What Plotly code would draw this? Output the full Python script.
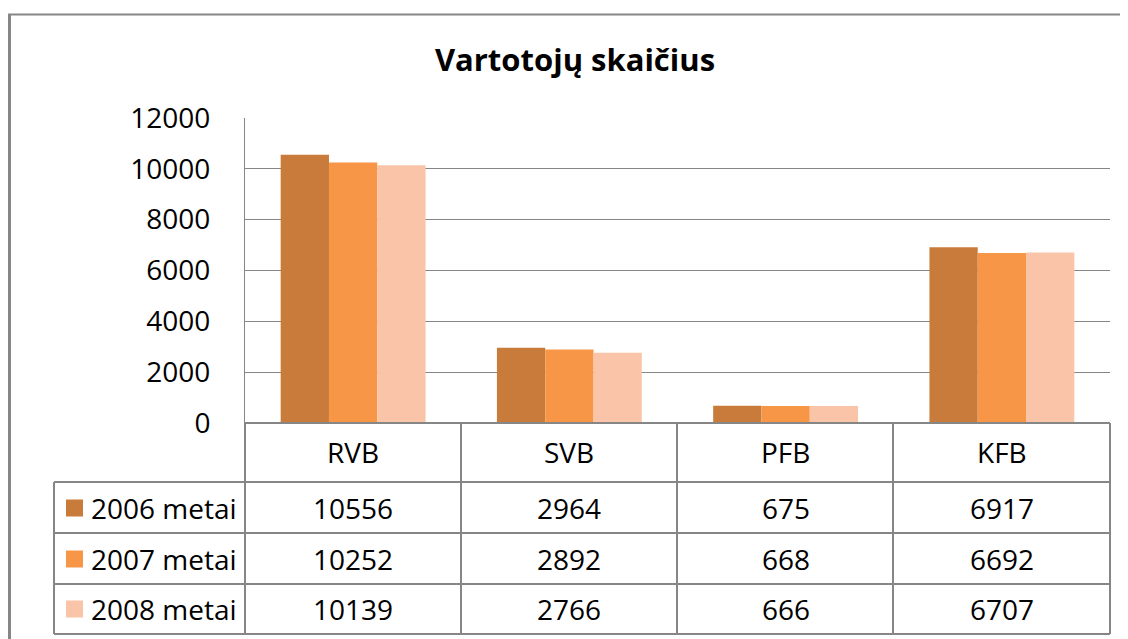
import plotly.graph_objects as go

categories = ["RVB", "SVB", "PFB", "KFB"]
series_names = ["2006 metai", "2007 metai", "2008 metai"]
values_2006 = [10556, 2964, 675, 6917]
values_2007 = [10252, 2892, 668, 6692]
values_2008 = [10139, 2766, 666, 6707]
series_values = [values_2006, values_2007, values_2008]
colors = ["#C97B3B", "#F79646", "#FAC4A8"]
y_ticks = [0, 2000, 4000, 6000, 8000, 10000, 12000]
title_text = "Vartotojų skaičius"

# page body has an 8px margin; figure coordinates are offset by it
OFF = 8
W, H = 1128 - OFF, 639 - OFF
L, R, T, B = 245 - OFF, 1110 - OFF, 118 - OFF, 423 - OFF
FONT = "Open Sans"
GRAY = "#868686"
FS = 28


def px(x):
    return (x - OFF - L) / (R - L)


def py(y):
    return (B - (y - OFF)) / (B - T)


fig = go.Figure()
for name, vals, col in zip(series_names, series_values, colors):
    fig.add_trace(go.Bar(x=categories, y=vals, name=name, marker=dict(color=col, line=dict(width=0))))

shapes = []
# outer chart border (left and top)
shapes.append(dict(type="line", xref="paper", yref="paper", x0=px(9.5), x1=px(9.5), y0=py(14), y1=py(645),
                   line=dict(color=GRAY, width=3)))
shapes.append(dict(type="line", xref="paper", yref="paper", x0=px(8), x1=px(1130), y0=py(14.5), y1=py(14.5),
                   line=dict(color=GRAY, width=2)))
# data table grid
row_lines = [482, 533, 584, 634]
col_lines = [245, 461, 677, 893, 1110]
for yl in row_lines:
    shapes.append(dict(type="line", xref="paper", yref="paper", x0=px(54), x1=px(1110), y0=py(yl), y1=py(yl),
                       line=dict(color=GRAY, width=2)))
for xl in col_lines:
    shapes.append(dict(type="line", xref="paper", yref="paper", x0=px(xl), x1=px(xl), y0=py(423), y1=py(634),
                       line=dict(color=GRAY, width=2)))
shapes.append(dict(type="line", xref="paper", yref="paper", x0=px(54), x1=px(54), y0=py(482), y1=py(634),
                   line=dict(color=GRAY, width=2)))
shapes.append(dict(type="line", xref="paper", yref="paper", x0=px(245), x1=px(1110), y0=py(423), y1=py(423),
                   line=dict(color=GRAY, width=2)))
# legend keys
row_centers = [508, 559, 609]
for yc, col in zip(row_centers, colors):
    shapes.append(dict(type="rect", xref="paper", yref="paper", x0=px(66), x1=px(83), y0=py(yc - 8.5), y1=py(yc + 8.5),
                       fillcolor=col, line=dict(width=0)))

annotations = []
for cat in categories:
    annotations.append(dict(x=cat, y=py(452), xref="x", yref="paper", text=cat, showarrow=False,
                            font=dict(family=FONT, size=FS, color="black"), xanchor="center", yanchor="middle"))
for yc, name, vals in zip(row_centers, series_names, series_values):
    annotations.append(dict(x=px(89), y=py(yc), xref="paper", yref="paper", text=name, showarrow=False,
                            font=dict(family=FONT, size=FS, color="black"), xanchor="left", yanchor="middle"))
    for cat, v in zip(categories, vals):
        annotations.append(dict(x=cat, y=py(yc), xref="x", yref="paper", text=str(v), showarrow=False,
                                font=dict(family=FONT, size=FS, color="black"), xanchor="center", yanchor="middle"))

fig.update_layout(
    width=W, height=H,
    margin=dict(l=L, r=W - R, t=T, b=H - B, pad=0),
    paper_bgcolor="white", plot_bgcolor="white",
    barmode="group", bargap=0.33, bargroupgap=0,
    showlegend=False,
    title=dict(text=title_text, x=(575 - OFF) / W, xanchor="center", y=1 - (60 - OFF) / H, yanchor="middle",
               font=dict(family=FONT, size=31, color="black", weight="bold")),
    font=dict(family=FONT, size=FS, color="black"),
    shapes=shapes, annotations=annotations,
)
fig.update_xaxes(showticklabels=False, showgrid=False, zeroline=False, showline=False, ticks="")
fig.update_yaxes(range=[0, 12000], tickvals=y_ticks, ticktext=[str(v) for v in y_ticks],
                 showgrid=True, gridcolor=GRAY, gridwidth=1,
                 zeroline=False, showline=True, linecolor=GRAY, linewidth=1, ticks="",
                 ticklabelstandoff=28, tickfont=dict(family=FONT, size=FS, color="black"))

fig.write_html("out.html")
